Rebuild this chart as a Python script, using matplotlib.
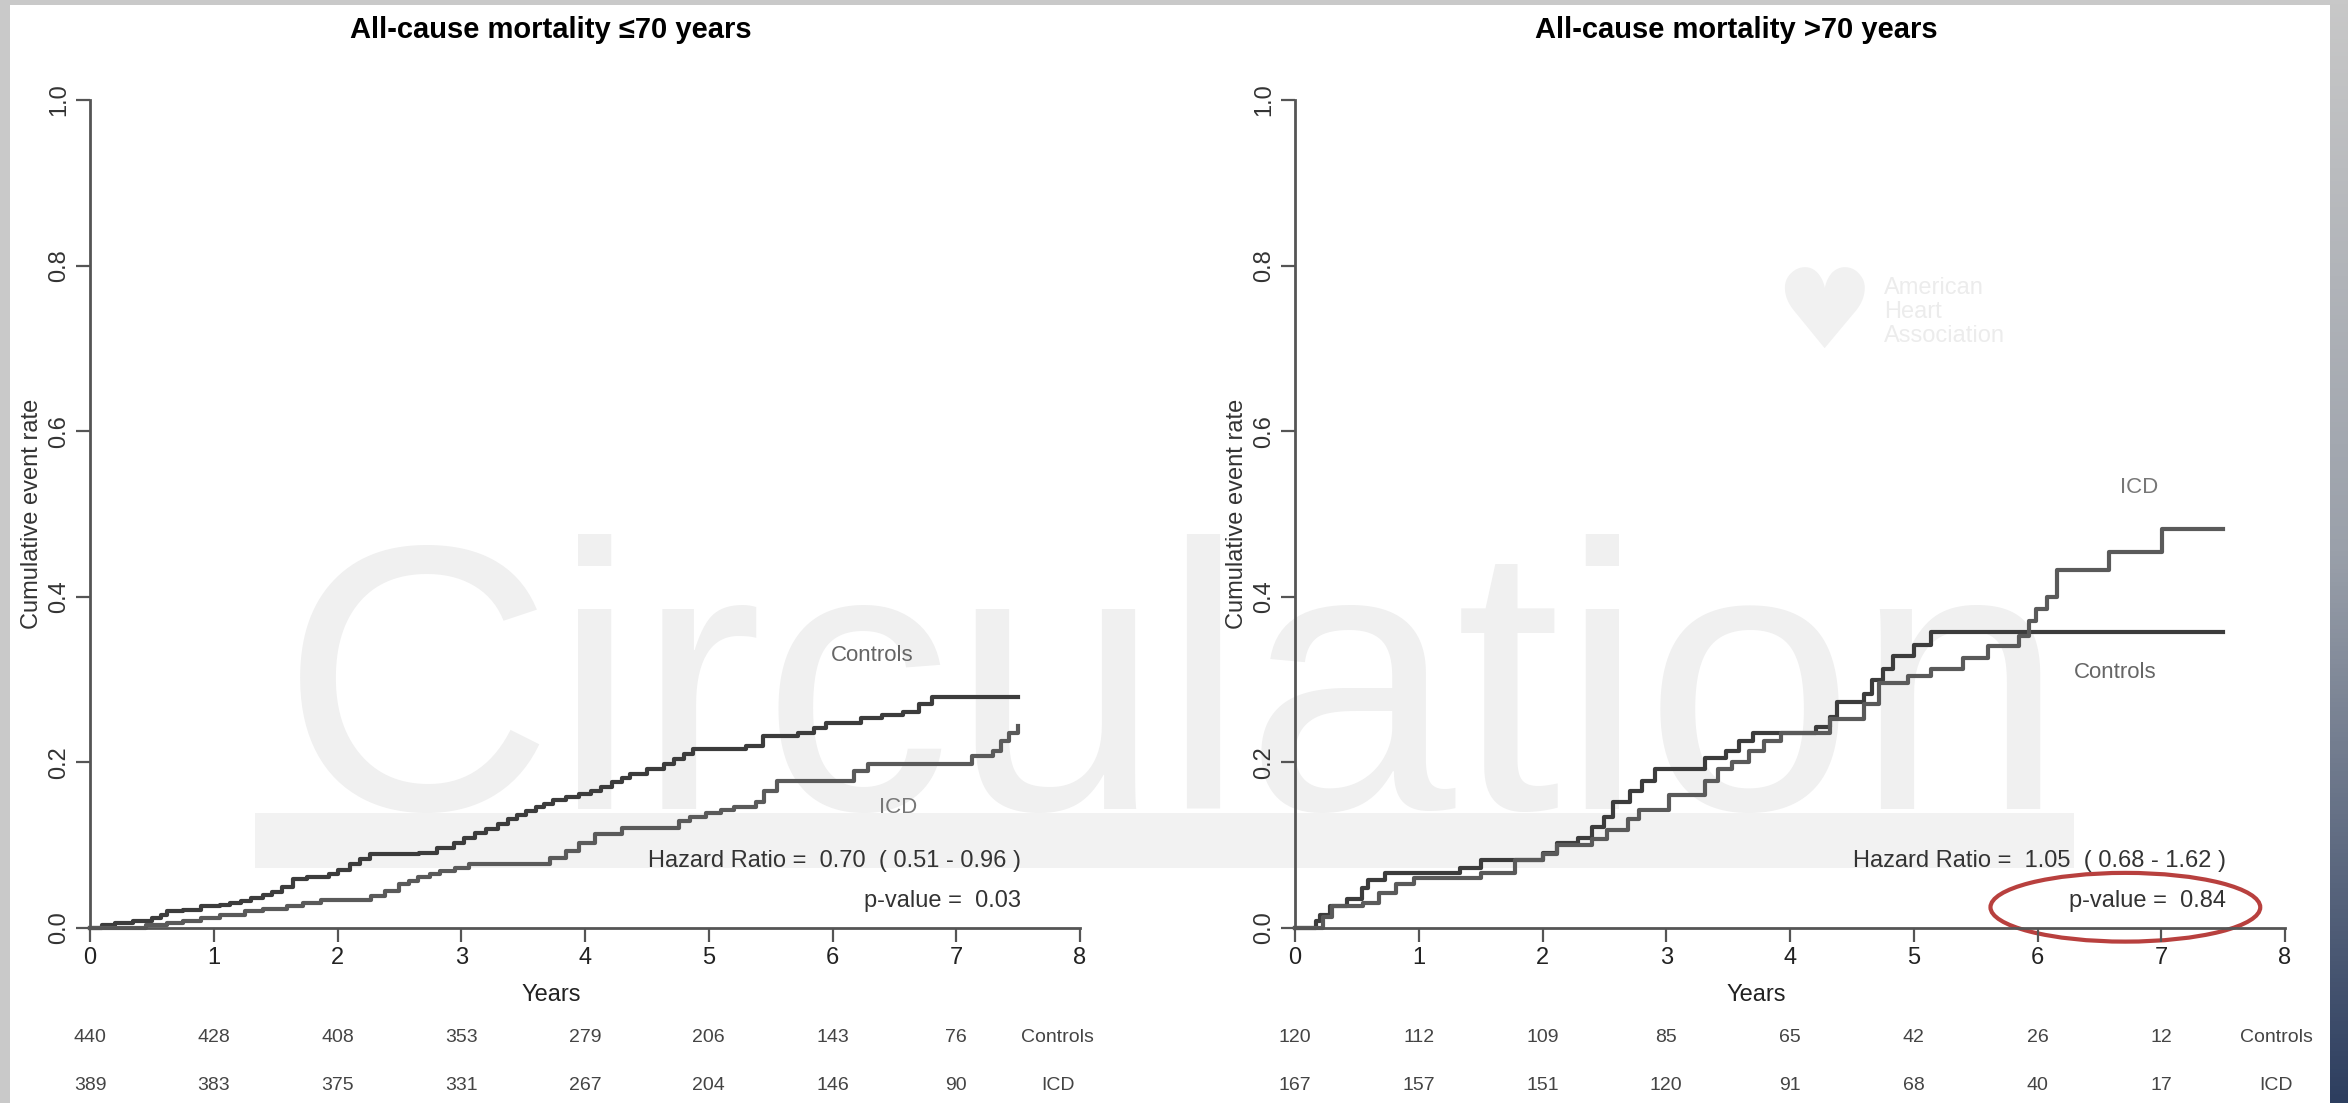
import numpy as np
import matplotlib
matplotlib.use("Agg")
import matplotlib.pyplot as plt
from matplotlib.patches import Ellipse, Rectangle

plt.rcParams['font.family'] = ['Liberation Sans', 'DejaVu Sans']

# ---- data ----
years = [0, 1, 2, 3, 4, 5, 6, 7, 8]

# <=70 years
young_ctrl_t = [0, 0.1, 0.2, 0.35, 0.5, 0.57, 0.62, 0.75, 0.9, 1.05, 1.13, 1.22, 1.3, 1.4, 1.47, 1.55, 1.64,
                1.75, 1.93, 2.0, 2.1, 2.18, 2.26, 2.66, 2.8, 2.94, 3.02, 3.11, 3.2, 3.3, 3.38, 3.45, 3.52,
                3.6, 3.67, 3.74, 3.85, 3.95, 4.05, 4.13, 4.22, 4.3, 4.36, 4.5, 4.64, 4.72, 4.8, 4.87, 5.3,
                5.44, 5.72, 5.85, 5.95, 6.23, 6.4, 6.57, 6.7, 6.8, 7.5]
young_ctrl_v = [0, 0.003, 0.006, 0.009, 0.012, 0.016, 0.02, 0.022, 0.026, 0.028, 0.03, 0.033, 0.036, 0.04,
                0.044, 0.05, 0.059, 0.062, 0.065, 0.07, 0.077, 0.083, 0.089, 0.091, 0.097, 0.103, 0.109,
                0.115, 0.12, 0.125, 0.131, 0.137, 0.141, 0.146, 0.15, 0.154, 0.158, 0.162, 0.166, 0.17,
                0.176, 0.181, 0.186, 0.192, 0.198, 0.204, 0.21, 0.216, 0.22, 0.232, 0.236, 0.242, 0.248,
                0.253, 0.257, 0.261, 0.27, 0.279, 0.279]
young_icd_t = [0, 0.45, 0.62, 0.75, 0.9, 1.05, 1.25, 1.4, 1.59, 1.72, 1.87, 2.27, 2.38, 2.5, 2.58, 2.65,
               2.75, 2.83, 2.95, 3.06, 3.62, 3.72, 3.85, 3.95, 4.08, 4.3, 4.76, 4.85, 4.98, 5.1, 5.2, 5.38,
               5.45, 5.55, 6.06, 6.17, 6.29, 7.08, 7.13, 7.3, 7.36, 7.43, 7.5]
young_icd_v = [0, 0.003, 0.006, 0.009, 0.012, 0.016, 0.02, 0.023, 0.026, 0.03, 0.034, 0.038, 0.045, 0.053,
               0.057, 0.061, 0.065, 0.069, 0.073, 0.077, 0.077, 0.085, 0.093, 0.103, 0.113, 0.121, 0.129,
               0.134, 0.139, 0.143, 0.146, 0.152, 0.165, 0.178, 0.178, 0.19, 0.198, 0.198, 0.208, 0.214,
               0.226, 0.236, 0.244]
young_risk_ctrl = [440, 428, 408, 353, 279, 206, 143, 76]
young_risk_icd = [389, 383, 375, 331, 267, 204, 146, 90]

# >70 years
old_ctrl_t = [0, 0.17, 0.2, 0.28, 0.42, 0.54, 0.59, 0.73, 1.33, 1.5, 2.0, 2.12, 2.29, 2.4, 2.5, 2.57, 2.71,
              2.8, 2.91, 3.31, 3.48, 3.59, 3.7, 4.21, 4.32, 4.38, 4.6, 4.66, 4.75, 4.83, 5.0, 5.14, 7.5]
old_ctrl_v = [0, 0.008, 0.016, 0.026, 0.035, 0.048, 0.058, 0.066, 0.073, 0.082, 0.091, 0.102, 0.109, 0.122,
              0.134, 0.152, 0.165, 0.178, 0.192, 0.205, 0.214, 0.226, 0.235, 0.243, 0.255, 0.273, 0.282,
              0.3, 0.313, 0.329, 0.342, 0.358, 0.358]
old_icd_t = [0, 0.23, 0.3, 0.55, 0.68, 0.82, 0.96, 1.5, 1.78, 2.0, 2.12, 2.4, 2.52, 2.69, 2.78, 3.02, 3.31,
             3.42, 3.53, 3.67, 3.79, 3.93, 4.32, 4.6, 4.72, 4.95, 5.14, 5.4, 5.6, 5.85, 5.93, 5.99, 6.08,
             6.16, 6.58, 7.01, 7.5]
old_icd_v = [0, 0.013, 0.026, 0.03, 0.042, 0.053, 0.06, 0.066, 0.082, 0.089, 0.1, 0.107, 0.118, 0.131,
             0.143, 0.16, 0.178, 0.192, 0.201, 0.214, 0.226, 0.235, 0.252, 0.27, 0.296, 0.304, 0.313,
             0.326, 0.34, 0.353, 0.371, 0.385, 0.4, 0.432, 0.454, 0.482, 0.482]
old_risk_ctrl = [120, 112, 109, 85, 65, 42, 26, 12]
old_risk_icd = [167, 157, 151, 120, 91, 68, 40, 17]

titles = ["All-cause mortality \u226470 years", "All-cause mortality >70 years"]
hr_text = ["Hazard Ratio =  0.70  ( 0.51 - 0.96 )", "Hazard Ratio =  1.05  ( 0.68 - 1.62 )"]
p_text = ["p-value =  0.03", "p-value =  0.84"]

W, H = 2348, 1103
fig = plt.figure(figsize=(W / 100, H / 100), dpi=100)
fig.patch.set_facecolor('white')

# watermark behind everything
fig.text(0.4995, 0.2666, "Circulation", fontsize=272, color='#f0f0f0', ha='center', va='baseline',
         zorder=-5)
fig.patches.append(Rectangle((255 / W, 1 - 868 / H), (2074 - 255) / W, 55 / H, transform=fig.transFigure,
                             facecolor='#f2f2f2', edgecolor='none', zorder=-6))
# AHA logo (very faint)
fig.text(1824 / W, 1 - 318 / H, "\u2665", fontsize=80, color='#f1f1f1', ha='center', va='center',
         family='DejaVu Sans', zorder=-5)
fig.text(1884 / W, 1 - 312 / H, "American\nHeart\nAssociation", fontsize=17, color='#ececec',
         ha='left', va='center', linespacing=1.1, zorder=-5)

# frame strips of the screenshot
fig.patches.append(Rectangle((0, 0), 10 / W, 1, transform=fig.transFigure, facecolor='#c9c9c9',
                             edgecolor='none', zorder=-7))
fig.patches.append(Rectangle((0, 1 - 5 / H), 1, 5 / H, transform=fig.transFigure, facecolor='#c9c9c9',
                             edgecolor='none', zorder=-7))
gax = fig.add_axes([2330 / W, 0, 18 / W, 1])
grad = np.linspace(0, 1, 256).reshape(-1, 1)
cmap = matplotlib.colors.LinearSegmentedColormap.from_list("edge", ['#c8c8c8', '#9aa0aa', '#2d3e5f'])
gax.imshow(grad, aspect='auto', cmap=cmap, extent=[0, 1, 1, 0])
gax.axis('off')

panels = [
    dict(x0=90, ctrl=(young_ctrl_t, young_ctrl_v), icd=(young_icd_t, young_icd_v),
         risk=(young_risk_ctrl, young_risk_icd), lab_ctrl=(6.32, 0.329), lab_icd=(6.53, 0.145),
         title_x=3.72, risk_lab_x=7.82),
    dict(x0=1295, ctrl=(old_ctrl_t, old_ctrl_v), icd=(old_icd_t, old_icd_v),
         risk=(old_risk_ctrl, old_risk_icd), lab_ctrl=(6.63, 0.309), lab_icd=(6.82, 0.532),
         title_x=3.57, risk_lab_x=7.93),
]

txtc = '#444444'
for i, p in enumerate(panels):
    ax = fig.add_axes([p['x0'] / W, 0.1587, 990 / W, 0.7507])
    ax.set_facecolor('none')
    ax.set_xlim(0, 8)
    ax.set_ylim(0, 1)

    ax.step(p['ctrl'][0], p['ctrl'][1], where='post', color='#3c3c3c', lw=3, clip_on=False)
    ax.step(p['icd'][0], p['icd'][1], where='post', color='#5a5a5a', lw=3, clip_on=False)

    for s in ['top', 'right']:
        ax.spines[s].set_visible(False)
    for s in ['left', 'bottom']:
        ax.spines[s].set_color('#555555')
        ax.spines[s].set_linewidth(2)
    ax.spines['left'].set_bounds(0, 1)
    ax.spines['bottom'].set_bounds(0, 8)

    ax.set_xticks(years)
    ax.set_xticklabels([str(y) for y in years], fontsize=17, color='#222222')
    yt = [0, 0.2, 0.4, 0.6, 0.8, 1.0]
    ax.set_yticks(yt)
    ax.set_yticklabels([f"{v:.1f}" for v in yt], fontsize=17, color='#333333', rotation=90, va='center')
    ax.tick_params(direction='out', length=10, width=1.6, color='#555555', pad=4)

    ax.text(p['title_x'], 1.0 + 70 / 828, titles[i], fontsize=21, fontweight='bold', color='black',
            ha='center', va='center', clip_on=False)
    ax.text(3.73, -67 / 828, "Years", fontsize=17, color='#222222', ha='center', va='center', clip_on=False)
    ax.text(-58 / 124, 0.5, "Cumulative event rate", fontsize=17, color='#333333', rotation=90,
            ha='center', va='center', clip_on=False)

    ax.text(*p['lab_ctrl'], "Controls", fontsize=16, color='#666666', ha='center', va='center')
    ax.text(*p['lab_icd'], "ICD", fontsize=16, color='#777777', ha='center', va='center')
    ax.text(7.52, 0.081, hr_text[i], fontsize=17, color='#333333', ha='right', va='center')
    ax.text(7.52, 0.032, p_text[i], fontsize=17, color='#333333', ha='right', va='center')

    ctrl_n, icd_n = p['risk']
    for k, (a, b) in enumerate(zip(ctrl_n, icd_n)):
        ax.text(years[k], -110 / 828, str(a), fontsize=14, color=txtc, ha='center', va='center', clip_on=False)
        ax.text(years[k], -158 / 828, str(b), fontsize=14, color=txtc, ha='center', va='center', clip_on=False)
    ax.text(p['risk_lab_x'], -110 / 828, "Controls", fontsize=14, color=txtc, ha='center', va='center', clip_on=False)
    ax.text(p['risk_lab_x'], -158 / 828, "ICD", fontsize=14, color=txtc, ha='center', va='center', clip_on=False)

    if i == 1:
        ax.add_patch(Ellipse((6.71, 0.025), 2.18, 0.083, fill=False, edgecolor='#b8403e', lw=3,
                             clip_on=False))

fig.savefig("out.png", dpi=100)
